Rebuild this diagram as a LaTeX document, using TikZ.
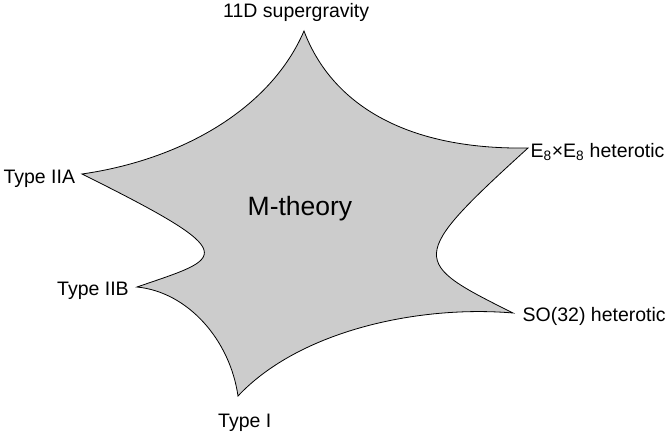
\documentclass[tikz,border=0pt]{standalone}
\usepackage{fontspec}
\setmainfont{Liberation Sans}
\definecolor{mfill}{HTML}{CCCCCC}
\tikzset{
  lbl/.style={inner sep=0pt, anchor=base west, font=\fontsize{19.5}{22}\selectfont},
  title/.style={inner sep=0pt, anchor=base west, font=\fontsize{26.5}{30}\selectfont},
  blob/.style={draw=black, line width=0.8pt, fill=mfill, line join=miter}
}
\begin{document}
\begin{tikzpicture}[x=1pt,y=-1pt]
\useasboundingbox (0,0) rectangle (670,432);
\coordinate (T) at (304,31);
\coordinate (E) at (528,148);
\coordinate (S) at (513,313);
\coordinate (B) at (238,396);
\coordinate (IIB) at (137,287);
\coordinate (IIA) at (82,174);
\draw[blob] (T)
  .. controls (330,100) and (400,150) .. (E)
  .. controls (406,259) and (411,262) .. (S)
  .. controls (420,305) and (300,330) .. (B)
  .. controls (230,340) and (188,292) .. (IIB)
  .. controls (224,257) and (247,256) .. (IIA)
  .. controls (180,160) and (270,110) .. (T) -- cycle;
\node[title] (m) at (247.5,215) {M-theory};
\node[lbl] (sugra) at (223,17.5) {11D supergravity};
\node[lbl] (e8) at (530.5,157) {E\textsubscript{8}×E\textsubscript{8} heterotic};
\node[lbl] (so) at (522.5,321) {SO(32) heterotic};
\node[lbl] (iia) at (3.3,183.5) {Type IIA};
\node[lbl] (iib) at (57,295) {Type IIB};
\node[lbl] (i) at (218,427) {Type I};
\end{tikzpicture}
\end{document}
